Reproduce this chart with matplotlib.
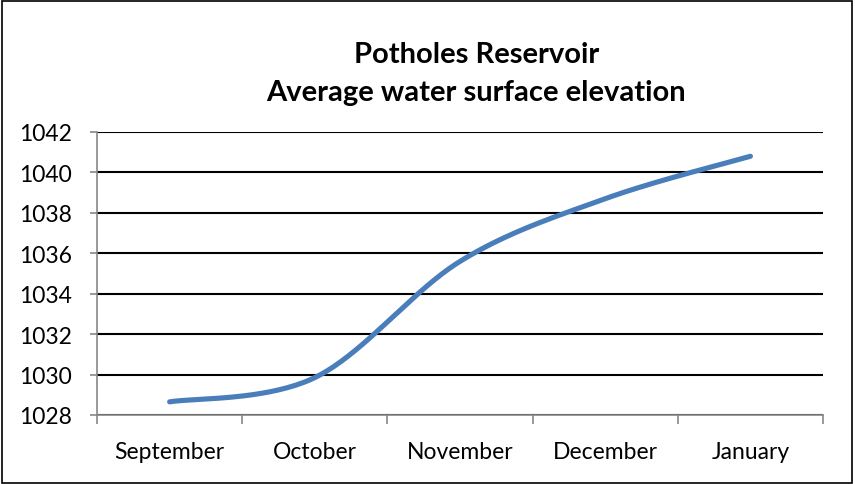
import matplotlib.pyplot as plt
import numpy as np

months = ["September", "October", "November", "December", "January"]
elevation = [1028.65, 1029.85, 1035.6, 1038.7, 1040.8]
yticks = [1028, 1030, 1032, 1034, 1036, 1038, 1040, 1042]

plt.rcParams['font.family'] = ['Lato', 'DejaVu Sans']


def smooth(xs, ys, n=40):
    # Excel-style smoothed line: cubic bezier with catmull-rom control points
    xs = np.asarray(xs, float)
    ys = np.asarray(ys, float)
    px = np.concatenate([[xs[0]], xs, [xs[-1]]])
    py = np.concatenate([[ys[0]], ys, [ys[-1]]])
    outx, outy = [], []
    t = np.linspace(0, 1, n)
    for i in range(1, len(px) - 2):
        p0 = np.array([px[i], py[i]])
        p3 = np.array([px[i + 1], py[i + 1]])
        c1 = p0 + (np.array([px[i + 1], py[i + 1]]) - np.array([px[i - 1], py[i - 1]])) / 6
        c2 = p3 - (np.array([px[i + 2], py[i + 2]]) - np.array([px[i], py[i]])) / 6
        b = ((1 - t) ** 3)[:, None] * p0 + (3 * (1 - t) ** 2 * t)[:, None] * c1 \
            + (3 * (1 - t) * t ** 2)[:, None] * c2 + (t ** 3)[:, None] * p3
        outx.extend(b[:, 0])
        outy.extend(b[:, 1])
    return outx, outy


fig = plt.figure(figsize=(8.55, 4.85), dpi=100)
ax = fig.add_axes([0.1135, 0.1423, 0.8491, 0.5835])

x = np.arange(len(months))
sx, sy = smooth(x, elevation)
ax.plot(sx, sy, color="#4A7EBB", lw=3.7, solid_capstyle="round", zorder=3)

ax.set_xlim(-0.5, len(months) - 0.5)
ax.set_ylim(1028, 1042)
ax.set_yticks(yticks)
ax.set_yticklabels([str(v) for v in yticks], fontsize=16.5)
ax.yaxis.grid(True, color="black", lw=1.5)
ax.set_axisbelow(True)

ax.set_xticks(np.arange(-0.5, len(months)))
ax.set_xticklabels([])
ax.set_xticks(x, minor=True)
ax.set_xticklabels(months, minor=True, fontsize=16.5)
ax.tick_params(axis="x", which="major", length=6.5, color="#888888", width=1.2)
ax.tick_params(axis="x", which="minor", length=0, pad=19)
ax.tick_params(axis="y", length=5, color="#888888", width=1.2, pad=13)

for s in ["top", "right"]:
    ax.spines[s].set_visible(False)
for s in ["left", "bottom"]:
    ax.spines[s].set_color("#888888")
    ax.spines[s].set_linewidth(1.2)

fig.text(0.557, 0.887, "Potholes Reservoir", ha="center", va="center",
         fontsize=21, fontweight="bold")
fig.text(0.557, 0.808, "Average water surface elevation", ha="center", va="center",
         fontsize=21, fontweight="bold")

fig.patches.append(plt.Rectangle((0.002, 0.003), 0.995, 0.993, transform=fig.transFigure,
                                 fill=False, edgecolor="black", lw=1.2))

plt.savefig("out.png")
